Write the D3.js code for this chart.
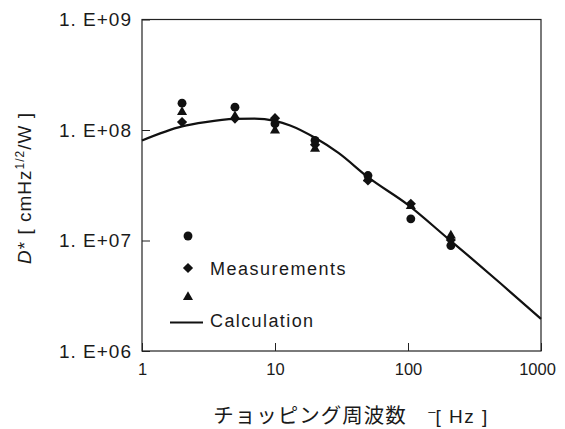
<!DOCTYPE html>
<html>
<head>
<meta charset="utf-8">
<script src="https://cdn.jsdelivr.net/npm/d3@7"></script>
<style>
  body { margin: 0; background: #fff; }
  svg { display: block; }
  text { font-family: "Liberation Sans", Arial, sans-serif; fill: #1a1a1a; }
</style>
</head>
<body>
<div class="container"></div>
<script>
// measured points (three sample sets) and the calculated curve
const freqs = [2, 5, 10, 20, 50, 105, 210];
const circleVals = [1.75e8, 1.61e8, 1.14e8, 8.05e7, 3.87e7, 1.57e7, 9.0e6];
const diamondVals = [1.18e8, 1.27e8, 1.28e8, 7.36e7, 3.49e7, 2.15e7, 1.01e7];
const triangleVals = [1.45e8, 1.33e8, 9.9e7, 6.77e7, 3.65e7, 2.05e7, 1.11e7];

const calcFreqs = [1, 2, 3, 5, 7, 10, 13, 20, 30, 50, 100, 200, 300, 500, 1000];
const calcVals = [8.05e7, 1.08e8, 1.18e8, 1.26e8, 1.27e8, 1.21e8, 1.1e8, 8.5e7, 6.2e7, 3.74e7, 2.1e7, 1.04e7, 6.9e6, 4.06e6, 1.95e6];

const xTicks = [1, 10, 100, 1000];
const xTickLabels = ['1', '10', '100', '1000'];
const yTicks = [1e6, 1e7, 1e8, 1e9];
const yTickLabels = ['1. E+06', '1. E+07', '1. E+08', '1. E+09'];

const w = 565,
    h = 429;
const pL = 142, pR = 541, pT = 19.5, pB = 351;

const svg = d3.select('.container')
  .append('svg')
  .attr('width', w)
  .attr('height', h);

const xScale = d3.scaleLog().domain([1, 1000]).range([pL, pR]);
const yScale = d3.scaleLog().domain([1e6, 1e9]).range([pB, pT]);

// frame
svg.append('rect')
  .attr('x', pL)
  .attr('y', pT)
  .attr('width', pR - pL)
  .attr('height', pB - pT)
  .attr('fill', 'none')
  .attr('stroke', '#222')
  .attr('stroke-width', 1.2);

const xAxis = d3.axisBottom(xScale)
  .tickValues(xTicks)
  .tickFormat((d, i) => xTickLabels[i])
  .tickSizeInner(-8)
  .tickSizeOuter(0)
  .tickPadding(12);

const yAxis = d3.axisLeft(yScale)
  .tickValues(yTicks)
  .tickFormat((d, i) => yTickLabels[i])
  .tickSizeInner(-8)
  .tickSizeOuter(0)
  .tickPadding(10);

const gx = svg.append('g')
  .attr('transform', `translate(0,${pB})`)
  .call(xAxis);
gx.select('.domain').remove();
gx.selectAll('line').attr('stroke', '#222');
gx.selectAll('text')
  .style('font-size', '16.5px')
  .attr('fill', '#1a1a1a')
  .attr('dx', (d, i) => i == 3 ? -4 : 0);

const gy = svg.append('g')
  .attr('transform', `translate(${pL},0)`)
  .call(yAxis);
gy.select('.domain').remove();
gy.selectAll('line').attr('stroke', '#222');
gy.selectAll('text')
  .style('font-size', '19px')
  .style('letter-spacing', '1px')
  .attr('fill', '#1a1a1a');

// calculation curve
const line = d3.line()
  .x((d, i) => xScale(calcFreqs[i]))
  .y(d => yScale(d))
  .curve(d3.curveMonotoneX);

svg.append('path')
  .datum(calcVals)
  .attr('d', line)
  .attr('fill', 'none')
  .attr('stroke', '#111')
  .attr('stroke-width', 2.2);

// measurement markers
const circleSym = d3.symbol(d3.symbolCircle, 62);
const squareSym = d3.symbol(d3.symbolSquare, 52);
const triSym = d3.symbol(d3.symbolTriangle, 44);

function drawMarks(vals, sym, rot) {
  svg.append('g')
    .selectAll('path')
    .data(vals)
    .enter()
    .append('path')
    .attr('d', sym)
    .attr('fill', '#111')
    .attr('transform', (d, i) => `translate(${xScale(freqs[i])},${yScale(d)}) rotate(${rot})`);
}
drawMarks(triangleVals, triSym, 0);
drawMarks(diamondVals, squareSym, 45);
drawMarks(circleVals, circleSym, 0);

// legend
const lx = 188;
svg.append('path').attr('d', circleSym).attr('fill', '#111')
  .attr('transform', `translate(${lx},236)`);
svg.append('path').attr('d', squareSym).attr('fill', '#111')
  .attr('transform', `translate(${lx},268) rotate(45)`);
svg.append('path').attr('d', triSym).attr('fill', '#111')
  .attr('transform', `translate(${lx},297)`);
svg.append('line')
  .attr('x1', 170).attr('x2', 203)
  .attr('y1', 322.5).attr('y2', 322.5)
  .attr('stroke', '#111')
  .attr('stroke-width', 2.2);

svg.append('text')
  .attr('x', 210).attr('y', 275)
  .style('font-size', '18px')
  .style('letter-spacing', '1.5px')
  .text('Measurements');
svg.append('text')
  .attr('x', 210).attr('y', 326.5)
  .style('font-size', '18px')
  .style('letter-spacing', '1.4px')
  .text('Calculation');

// y axis title
const yt = svg.append('text')
  .attr('transform', 'translate(31,188) rotate(-90)')
  .attr('text-anchor', 'middle')
  .style('font-size', '19px')
  .style('letter-spacing', '1px');
yt.append('tspan').style('font-style', 'italic').text('D');
yt.append('tspan').text('* [ cmHz');
yt.append('tspan').attr('dy', -7).style('font-size', '12px').text('1/2');
yt.append('tspan').attr('dy', 7).text('/W ]');

// x axis title
const xt = svg.append('text')
  .attr('x', 351).attr('y', 423)
  .attr('text-anchor', 'middle')
  .style('font-size', '19px');
xt.append('tspan')
  .style('font-family', '"Noto Sans CJK JP", sans-serif')
  .style('font-size', '20.5px')
  .style('letter-spacing', '1px')
  .text('チョッピング周波数\u3000');
xt.append('tspan').attr('dy', -7).style('font-size', '13px').text('\u2013');
xt.append('tspan').attr('dy', 7).style('letter-spacing', '1.5px').text('[ Hz ]');
</script>
</body>
</html>
